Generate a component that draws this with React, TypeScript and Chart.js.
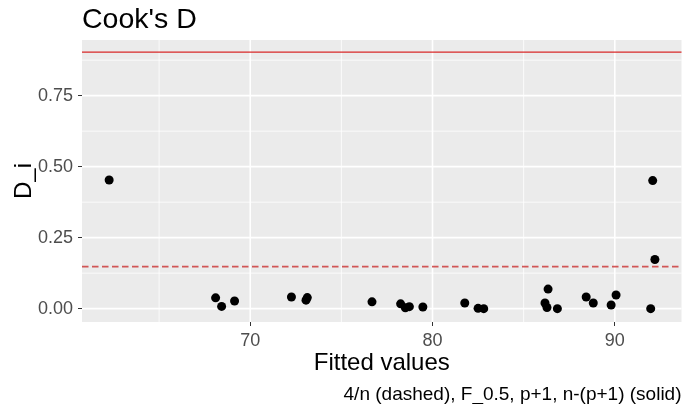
import React, { useEffect, useRef } from "react";
import { Chart, registerables } from "chart.js";

Chart.register(...registerables);

const fittedValues: number[] = [
  62.26, 68.1, 68.43, 69.14, 72.26, 73.06, 73.13, 76.68, 78.25, 78.51, 78.73,
  79.47, 81.77, 82.5, 82.81, 86.34, 86.17, 86.28, 86.85, 88.43, 88.82, 89.8,
  90.07, 92.08, 92.2, 91.97,
];
const cooksD: number[] = [
  0.453, 0.038, 0.008, 0.027, 0.041, 0.03, 0.039, 0.024, 0.017, 0.003, 0.007,
  0.006, 0.02, 0.001, 0.0, 0.069, 0.02, 0.004, 0.0, 0.041, 0.02, 0.013, 0.048,
  0.451, 0.173, 0.0,
];
const xTicks: number[] = [70, 80, 90];
const xMinorTicks: number[] = [65, 75, 85];
const yTicks: number[] = [0, 0.25, 0.5, 0.75];
const yMinorTicks: number[] = [0.125, 0.375, 0.625, 0.875];
const dashedThreshold = 0.148;
const solidThreshold = 0.903;

const titleText = "Cook's D";
const xTitle = "Fitted values";
const yTitle = "D_i";
const captionText = "4/n (dashed), F_0.5, p+1, n-(p+1) (solid)";

const FONT = "'Liberation Sans', Arial, sans-serif";

export default function App() {
  const ref = useRef<HTMLCanvasElement | null>(null);

  useEffect(() => {
    if (!ref.current) return;
    document.body.style.margin = "0";

    const panelPlugin = {
      id: "panel",
      beforeDatasetsDraw(chart: any) {
        const { ctx, chartArea: a, scales } = chart;
        const xs = scales.x;
        const ys = scales.y;
        ctx.save();
        ctx.fillStyle = "#EBEBEB";
        ctx.fillRect(a.left, a.top, a.right - a.left, a.bottom - a.top);
        ctx.strokeStyle = "#FFFFFF";
        ctx.lineWidth = 0.8;
        for (const v of xMinorTicks) {
          const p = xs.getPixelForValue(v);
          ctx.beginPath();
          ctx.moveTo(p, a.top);
          ctx.lineTo(p, a.bottom);
          ctx.stroke();
        }
        for (const v of yMinorTicks) {
          const p = ys.getPixelForValue(v);
          ctx.beginPath();
          ctx.moveTo(a.left, p);
          ctx.lineTo(a.right, p);
          ctx.stroke();
        }
        ctx.lineWidth = 1.6;
        for (const v of xTicks) {
          const p = xs.getPixelForValue(v);
          ctx.beginPath();
          ctx.moveTo(p, a.top);
          ctx.lineTo(p, a.bottom);
          ctx.stroke();
        }
        for (const v of yTicks) {
          const p = ys.getPixelForValue(v);
          ctx.beginPath();
          ctx.moveTo(a.left, p);
          ctx.lineTo(a.right, p);
          ctx.stroke();
        }
        const yd = ys.getPixelForValue(dashedThreshold);
        ctx.strokeStyle = "rgba(205,60,60,0.85)";
        ctx.lineWidth = 1.6;
        ctx.setLineDash([6.5, 3.5]);
        ctx.beginPath();
        ctx.moveTo(a.left, yd);
        ctx.lineTo(a.right, yd);
        ctx.stroke();
        ctx.setLineDash([]);
        const ysol = ys.getPixelForValue(solidThreshold);
        ctx.strokeStyle = "rgba(215,30,30,0.95)";
        ctx.lineWidth = 1.2;
        ctx.beginPath();
        ctx.moveTo(a.left, ysol);
        ctx.lineTo(a.right, ysol);
        ctx.stroke();
        ctx.restore();
      },
      afterDraw(chart: any) {
        const { ctx, chartArea: a } = chart;
        ctx.save();
        ctx.fillStyle = "#000000";
        ctx.textBaseline = "alphabetic";
        ctx.font = `28.5px ${FONT}`;
        ctx.textAlign = "left";
        ctx.fillText(titleText, a.left, 27.7);
        ctx.font = `24px ${FONT}`;
        ctx.textAlign = "center";
        ctx.fillText(xTitle, (a.left + a.right) / 2, 370);
        ctx.save();
        ctx.translate(30.5, (a.top + a.bottom) / 2);
        ctx.rotate(-Math.PI / 2);
        ctx.textAlign = "center";
        ctx.fillText(yTitle, 0, 0);
        ctx.restore();
        ctx.font = `19px ${FONT}`;
        ctx.textAlign = "right";
        ctx.fillText(captionText, a.right, 399.5);
        ctx.restore();
      },
    };

    const chart = new Chart(ref.current, {
      type: "scatter",
      data: {
        datasets: [
          {
            data: fittedValues.map((x, i) => ({ x, y: cooksD[i] })),
            backgroundColor: "#000000",
            borderWidth: 0,
            pointRadius: 4.5,
            pointHoverRadius: 4.5,
          },
        ],
      },
      options: {
        responsive: false,
        animation: false,
        devicePixelRatio: 1,
        layout: { padding: { top: 40, left: 0, right: 2, bottom: 0 } },
        plugins: {
          legend: { display: false },
          tooltip: { enabled: false },
        },
        scales: {
          x: {
            type: "linear",
            min: 60.77,
            max: 93.66,
            afterBuildTicks: (s: any) => {
              s.ticks = xTicks.map((v) => ({ value: v }));
            },
            afterFit: (s: any) => {
              s.height = 82;
            },
            border: { display: false },
            grid: {
              drawOnChartArea: false,
              drawTicks: true,
              tickLength: 4,
              tickColor: "#333333",
              tickWidth: 1,
            },
            ticks: {
              autoSkip: false,
              maxRotation: 0,
              padding: 4,
              color: "#4D4D4D",
              font: { family: FONT, size: 18 },
              callback: (v: any) => String(v),
            },
          },
          y: {
            type: "linear",
            min: -0.047,
            max: 0.946,
            afterBuildTicks: (s: any) => {
              s.ticks = yTicks.map((v) => ({ value: v }));
            },
            afterFit: (s: any) => {
              s.width = 82;
            },
            border: { display: false },
            grid: {
              drawOnChartArea: false,
              drawTicks: true,
              tickLength: 4,
              tickColor: "#333333",
              tickWidth: 1,
            },
            ticks: {
              autoSkip: false,
              padding: 5,
              color: "#4D4D4D",
              font: { family: FONT, size: 18 },
              callback: (v: any) => Number(v).toFixed(2),
            },
          },
        },
      },
      plugins: [panelPlugin],
    });
    return () => chart.destroy();
  }, []);

  return (
    <div style={{ position: "absolute", left: 0, top: 0, width: 686, height: 404, background: "#FFFFFF" }}>
      <canvas ref={ref} width={686} height={404} style={{ width: 686, height: 404, display: "block" }} />
    </div>
  );
}
